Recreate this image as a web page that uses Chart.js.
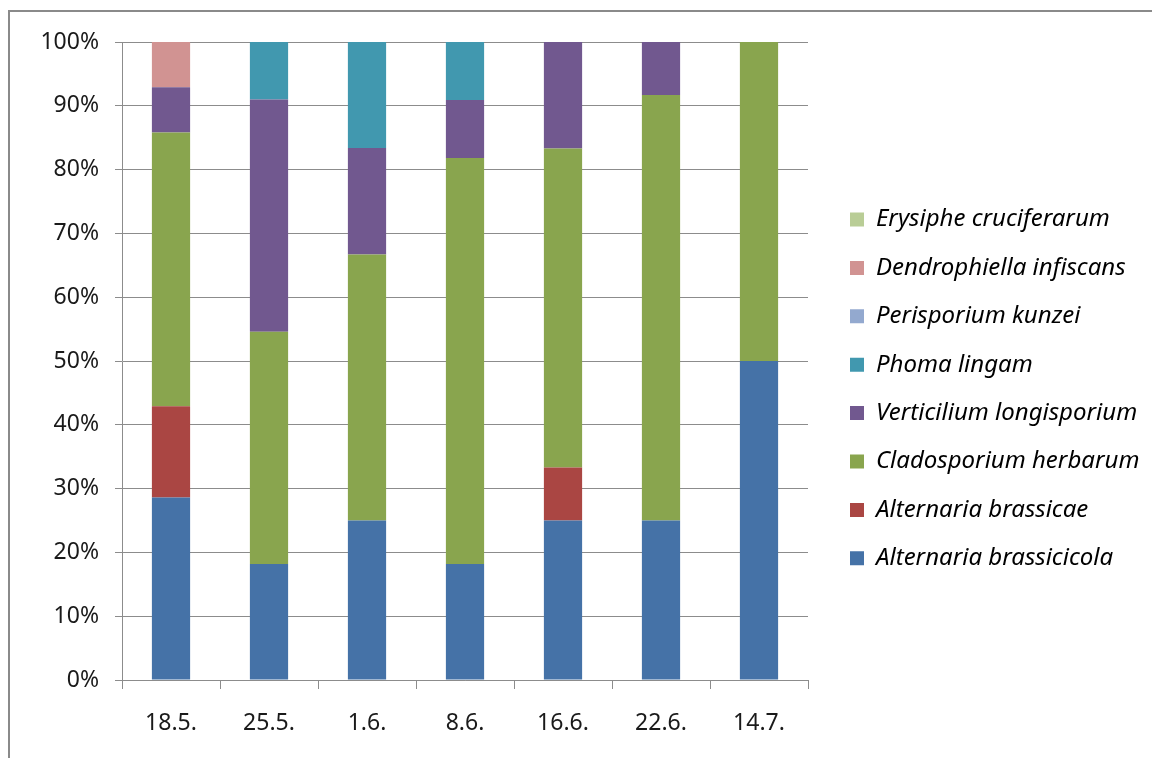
<!DOCTYPE html>
<html>
<head>
<meta charset="utf-8">
<script src="https://cdn.jsdelivr.net/npm/chart.js@4"></script>
<style>
  body { margin: 0; background: #fff; }
  #wrap { position: relative; width: 1152px; height: 758px; overflow: hidden; }
  #frame { position: absolute; left: 8px; top: 10px; width: 1200px; height: 800px;
           border-left: 2px solid #8a8a8a; border-top: 2px solid #8a8a8a; pointer-events: none; }
</style>
</head>
<body>
<div id="wrap">
  <canvas id="grafico" width="1152" height="758"></canvas>
  <div id="frame"></div>
</div>
<script>
const fechas = ["18.5.", "25.5.", "1.6.", "8.6.", "16.6.", "22.6.", "14.7."];

// share of each fungus per sampling date, in %
const alternariaBrassicicola = [28.6, 18.2, 25, 18.2, 25, 25, 50];
const alternariaBrassicae = [14.3, 0, 0, 0, 8.3, 0, 0];
const cladosporiumHerbarum = [42.9, 36.4, 41.7, 63.6, 50, 66.7, 50];
const verticiliumLongisporium = [7.1, 36.4, 16.7, 9.1, 16.7, 8.3, 0];
const phomaLingam = [0, 9.1, 16.7, 9.1, 0, 0, 0];
const perisporiumKunzei = [0, 0, 0, 0, 0, 0, 0];
const dendrophiellaInfiscans = [7.1, 0, 0, 0, 0, 0, 0];
const erysipheCruciferarum = [0, 0, 0, 0, 0, 0, 0];

const yTicks = [0, 10, 20, 30, 40, 50, 60, 70, 80, 90, 100];

const series = [
  ["Alternaria brassicicola", alternariaBrassicicola, "#4572a7"],
  ["Alternaria brassicae", alternariaBrassicae, "#aa4643"],
  ["Cladosporium herbarum", cladosporiumHerbarum, "#89a54e"],
  ["Verticilium longisporium", verticiliumLongisporium, "#71588f"],
  ["Phoma lingam", phomaLingam, "#4198af"],
  ["Perisporium kunzei", perisporiumKunzei, "#93a9cf"],
  ["Dendrophiella infiscans", dendrophiellaInfiscans, "#d19392"],
  ["Erysiphe cruciferarum", erysipheCruciferarum, "#b9cd96"]
];

Chart.defaults.font.family = "'Noto Sans', sans-serif";
Chart.defaults.font.size = 23;
Chart.defaults.color = "#1a1a1a";

// legend sizes: swatch starts at x=850, plot ends at x=808
const fsLey = 24, cajaLey = 14, padLey = 24.4;
const medir = document.createElement("canvas").getContext("2d");
medir.font = "italic " + fsLey + "px 'Noto Sans', sans-serif";
const textoMax = Math.max(...series.map(s => medir.measureText(s[0]).width));
const itemLey = cajaLey + fsLey / 2 + textoMax;
const anchoLeyenda = padLey + itemLey + 10;
const padDer = Math.max(0, 1152 - 850 - 10 - itemLey);
const hueco = Math.max(0, 850 - padLey - 808);
const padAbajo = 42 + padLey + 758 - 8 * (fsLey + padLey) - 2 * (219.5 - fsLey / 2);

const canvaGrafico = document.getElementById("grafico");

new Chart(canvaGrafico, {
  type: "bar",
  data: {
    labels: fechas,
    datasets: series.map(([nombre, valores, color]) => ({
      label: nombre,
      data: valores,
      backgroundColor: color,
      borderWidth: 0,
      categoryPercentage: 1,
      barPercentage: 0.39
    }))
  },
  options: {
    responsive: false,
    animation: false,
    layout: { padding: { top: 42, bottom: padAbajo, left: 0, right: padDer } },
    plugins: {
      tooltip: { enabled: false },
      legend: {
        position: "right",
        reverse: true,
        maxWidth: Math.ceil(anchoLeyenda) + 2,
        labels: {
          boxWidth: cajaLey,
          boxHeight: cajaLey,
          padding: padLey,
          color: "#000",
          font: { size: fsLey, style: "italic" }
        }
      }
    },
    scales: {
      x: {
        stacked: true,
        grid: { drawOnChartArea: false, tickLength: 9, color: "#8c8c8c" },
        border: { color: "#8c8c8c" },
        ticks: { padding: 21 },
        afterFit: s => { s.height = 758 - padAbajo - 680; }
      },
      y: {
        stacked: true,
        min: 0,
        max: 100,
        grid: { tickLength: 7, color: "#8c8c8c" },
        border: { color: "#8c8c8c" },
        afterBuildTicks: s => { s.ticks = yTicks.map(v => ({ value: v })); },
        ticks: { padding: 16, callback: v => v + "%" },
        afterFit: s => { s.width = 122; }
      },
      hueco: {
        position: "right",
        grid: { display: false, drawTicks: false },
        border: { display: false },
        ticks: { display: false },
        afterFit: s => { s.width = hueco; }
      }
    }
  }
});
</script>
</body>
</html>
